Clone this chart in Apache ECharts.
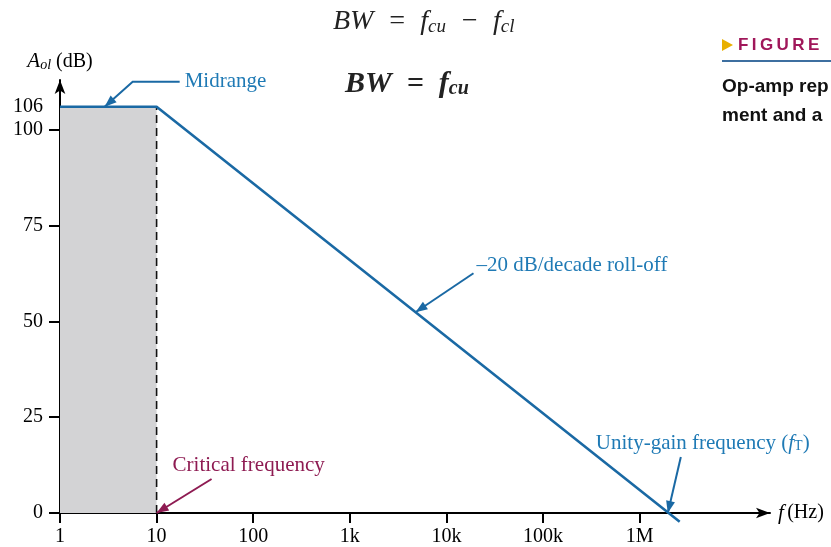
<!DOCTYPE html>
<html>
<head>
<meta charset="utf-8">
<script src="https://cdn.jsdelivr.net/npm/echarts@6/dist/echarts.min.js"></script>
<style>html,body{margin:0;padding:0;background:#fff;}#c{width:831px;height:547px;}</style>
</head>
<body>
<div id="c"></div>
<script>
// ---- data ----
const freqs = [1, 10, 2.6e6];          // Hz
const gains = [106, 106, -2.3];        // dB (open-loop gain)
const midFreqs = [1, 10];              // midrange (shaded) band
const midGains = [106, 106];
const criticalFreq = 10;
const unityFreq = 1.96e6;
const xTickExps = [0, 1, 2, 3, 4, 5, 6];
const xTickLabels = ['1', '10', '100', '1k', '10k', '100k', '1M'];
const yTicks = [0, 25, 50, 75, 100];
const yLabels = [0, 25, 50, 75, 100, 106];

const BLUE = '#1a69a4', TBLUE = '#1f7ab5', MAROON = '#8e1b52';
const SERIF = '"Liberation Serif","DejaVu Serif",serif';
const lg = Math.log10;

const chart = echarts.init(document.getElementById('c'), null, {renderer: 'canvas', width: 831, height: 547});

chart.setOption({
  backgroundColor: '#fff',
  animation: false,
  grid: {left: 60, right: 61, top: 80, bottom: 33},
  xAxis: {
    type: 'value', min: 0, max: 7.35,
    name: '{f|f} {n|(Hz)}', nameLocation: 'end', nameGap: 8,
    nameTextStyle: {rich: {
      f: {fontFamily: SERIF, fontSize: 21, fontStyle: 'italic', color: '#000'},
      n: {fontFamily: SERIF, fontSize: 20, color: '#000'}
    }},
    axisLine: {lineStyle: {color: '#000', width: 2}, symbol: ['none', 'arrow'], symbolSize: [8, 14]},
    axisTick: {show: true, length: 10, lineStyle: {color: '#000', width: 2}, customValues: xTickExps},
    axisLabel: {customValues: xTickExps, margin: 14, color: '#000', fontFamily: SERIF, fontSize: 20,
      formatter: v => xTickLabels[xTickExps.indexOf(Math.round(v))] || ''},
    splitLine: {show: false}
  },
  yAxis: {
    type: 'value', min: 0, max: 113,
    name: '{a|A}{s|ol}{n| (dB)}', nameLocation: 'end', nameGap: 8,
    nameTextStyle: {rich: {
      a: {fontFamily: SERIF, fontSize: 21, fontStyle: 'italic', color: '#000'},
      s: {fontFamily: SERIF, fontSize: 14, fontStyle: 'italic', color: '#000', verticalAlign: 'bottom'},
      n: {fontFamily: SERIF, fontSize: 20, color: '#000'}
    }},
    axisLine: {lineStyle: {color: '#000', width: 2}, symbol: ['none', 'arrow'], symbolSize: [8, 14]},
    axisTick: {show: true, length: 11, lineStyle: {color: '#000', width: 2}, customValues: yTicks},
    axisLabel: {customValues: yLabels, margin: 17, color: '#000', fontFamily: SERIF, fontSize: 20,
      hideOverlap: false, showMaxLabel: true, showMinLabel: true},
    splitLine: {show: false}
  },
  series: [
    {
      type: 'line', name: 'band', symbol: 'none', silent: true, z: 1,
      data: midFreqs.map((f, i) => [lg(f), midGains[i]]),
      lineStyle: {width: 0}, areaStyle: {color: '#d3d3d5', opacity: 1}
    },
    {
      type: 'line', name: 'fc', symbol: 'none', silent: true, z: 2,
      data: [[lg(criticalFreq), 0], [lg(criticalFreq), midGains[1]]],
      lineStyle: {color: '#111', width: 1.6, type: [8, 5]}
    },
    {
      type: 'line', name: 'Aol', symbol: 'none', clip: false, z: 5,
      data: freqs.map((f, i) => [lg(f), gains[i]]),
      lineStyle: {color: BLUE, width: 2.6}
    }
  ]
});

function P(f, db) { return chart.convertToPixel({gridIndex: 0}, [lg(f), db]); }
function arrowEls(pts, color) {
  const els = [];
  els.push({type: 'polyline', shape: {points: pts}, style: {stroke: color, lineWidth: 2, fill: null}, z: 20});
  const t = pts[pts.length - 1], s = pts[pts.length - 2];
  const dx = t[0] - s[0], dy = t[1] - s[1], L = Math.hypot(dx, dy);
  const ux = dx / L, uy = dy / L, len = 12, w = 4.5;
  const bx = t[0] - ux * len, by = t[1] - uy * len;
  els.push({type: 'polygon', shape: {points: [[t[0], t[1]], [bx - uy * w, by + ux * w], [bx + uy * w, by - ux * w]]},
    style: {fill: color, stroke: null}, z: 21});
  return els;
}
function txt(x, y, text, color, extra) {
  return Object.assign({type: 'text', x: x, y: y, z: 22,
    style: Object.assign({text: text, fill: color, font: '21px ' + SERIF, textAlign: 'left', textVerticalAlign: 'middle'}, extra || {})});
}

// anchor points (data space)
const tMid = P(2.9, midGains[0]);
const tCrit = P(criticalFreq, 0);
const rollF = Math.pow(10, 3.68);
const tRoll = P(rollF, midGains[0] - 20 * lg(rollF / criticalFreq));
const tUnity = P(unityFreq, 0);

const g = [];
g.push(...arrowEls([[tMid[0] + 75, tMid[1] - 25], [tMid[0] + 28, tMid[1] - 25], tMid], BLUE));
g.push(txt(tMid[0] + 80, tMid[1] - 25, 'Midrange', TBLUE));
g.push(...arrowEls([[tCrit[0] + 55, tCrit[1] - 34], tCrit], MAROON));
g.push(txt(tCrit[0] + 16, tCrit[1] - 48, 'Critical frequency', MAROON));
g.push(...arrowEls([[tRoll[0] + 58, tRoll[1] - 39], tRoll], BLUE));
g.push(txt(tRoll[0] + 61, tRoll[1] - 47, '\u201320 dB/decade roll-off', TBLUE));
g.push(...arrowEls([[tUnity[0] + 13, tUnity[1] - 56], tUnity], BLUE));
g.push({type: 'text', x: tUnity[0] - 72, y: tUnity[1] - 70, z: 22, style: {
  text: '{n|Unity-gain frequency (}{i|f}{s|T}{n|)}', textVerticalAlign: 'middle',
  rich: {
    n: {fontFamily: SERIF, fontSize: 21, fill: TBLUE, color: TBLUE},
    i: {fontFamily: SERIF, fontSize: 21, fontStyle: 'italic', fill: TBLUE, color: TBLUE},
    s: {fontFamily: SERIF, fontSize: 14, fill: TBLUE, color: TBLUE, verticalAlign: 'bottom'}
  }}});

// formulas
g.push({type: 'text', x: 333, y: 22, z: 22, style: {
  text: '{m|BW  =  f}{s|cu}{m|  \u2212  f}{s|cl}', textAlign: 'left', textVerticalAlign: 'middle',
  rich: {
    m: {fontFamily: SERIF, fontSize: 28, fontStyle: 'italic', fill: '#222', color: '#222'},
    s: {fontFamily: SERIF, fontSize: 19, fontStyle: 'italic', fill: '#222', color: '#222', verticalAlign: 'bottom'}
  }}});
g.push({type: 'text', x: 345, y: 84, z: 22, style: {
  text: '{m|BW  =  f}{s|cu}', textAlign: 'left', textVerticalAlign: 'middle',
  rich: {
    m: {fontFamily: SERIF, fontSize: 30, fontStyle: 'italic', fontWeight: 'bold', fill: '#222', color: '#222'},
    s: {fontFamily: SERIF, fontSize: 20, fontStyle: 'italic', fontWeight: 'bold', fill: '#222', color: '#222', verticalAlign: 'bottom'}
  }}});

// figure caption (cut by the right edge)
g.push({type: 'polygon', shape: {points: [[722, 39], [722, 51], [733, 45]]}, style: {fill: '#e8b000'}, z: 22});
g.push(txt(738, 45, 'F\u2009I\u2009G\u2009U\u2009R\u2009E', '#a0175a', {font: 'bold 17px "Liberation Sans","DejaVu Sans",sans-serif'}));
g.push({type: 'line', shape: {x1: 722, y1: 61, x2: 831, y2: 61}, style: {stroke: '#3d6fa0', lineWidth: 2}, z: 22});
g.push(txt(722, 87, 'Op-amp rep', '#111', {font: 'bold 19px "Liberation Sans Narrow","Liberation Sans",sans-serif'}));
g.push(txt(722, 116, 'ment and a', '#111', {font: 'bold 19px "Liberation Sans Narrow","Liberation Sans",sans-serif'}));

chart.setOption({graphic: {elements: g}});
</script>
</body>
</html>
